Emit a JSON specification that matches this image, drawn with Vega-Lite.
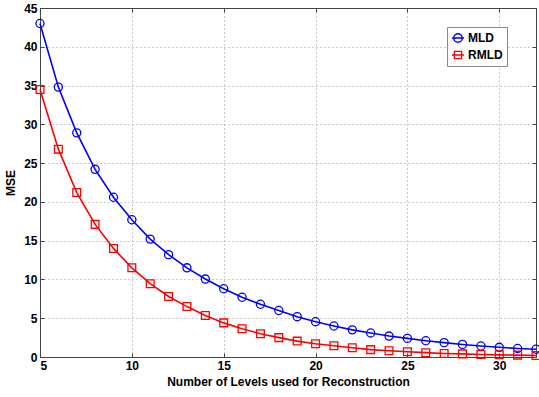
{
  "$schema": "https://vega.github.io/schema/vega-lite/v6.json",
  "width": 496,
  "height": 349,
  "autosize": {"type": "none"},
  "padding": {"left": 40, "top": 8, "right": 3, "bottom": 40},
  "background": "white",
  "config": {
    "font": "Liberation Sans",
    "view": {"stroke": "#444", "strokeWidth": 1},
    "axis": {
      "labelFont": "Liberation Sans",
      "labelFontWeight": "bold",
      "labelFontSize": 12,
      "labelColor": "black",
      "titleFont": "Liberation Sans",
      "titleFontWeight": "bold",
      "titleFontSize": 12,
      "titleColor": "black",
      "domainColor": "#444",
      "tickColor": "#444",
      "tickSize": -4,
      "gridColor": "#999999",
      "gridDash": [1, 3],
      "gridWidth": 1,
      "gridOpacity": 1
    }
  },
  "data": {
    "values": [
      {"level": 5, "series": "MLD", "mse": 43.0},
      {"level": 6, "series": "MLD", "mse": 34.8},
      {"level": 7, "series": "MLD", "mse": 28.9},
      {"level": 8, "series": "MLD", "mse": 24.2},
      {"level": 9, "series": "MLD", "mse": 20.6},
      {"level": 10, "series": "MLD", "mse": 17.7},
      {"level": 11, "series": "MLD", "mse": 15.2},
      {"level": 12, "series": "MLD", "mse": 13.2},
      {"level": 13, "series": "MLD", "mse": 11.5},
      {"level": 14, "series": "MLD", "mse": 10.05},
      {"level": 15, "series": "MLD", "mse": 8.8},
      {"level": 16, "series": "MLD", "mse": 7.7},
      {"level": 17, "series": "MLD", "mse": 6.8},
      {"level": 18, "series": "MLD", "mse": 6.0},
      {"level": 19, "series": "MLD", "mse": 5.2},
      {"level": 20, "series": "MLD", "mse": 4.55},
      {"level": 21, "series": "MLD", "mse": 4.0},
      {"level": 22, "series": "MLD", "mse": 3.5},
      {"level": 23, "series": "MLD", "mse": 3.1},
      {"level": 24, "series": "MLD", "mse": 2.7},
      {"level": 25, "series": "MLD", "mse": 2.4},
      {"level": 26, "series": "MLD", "mse": 2.1},
      {"level": 27, "series": "MLD", "mse": 1.85},
      {"level": 28, "series": "MLD", "mse": 1.62},
      {"level": 29, "series": "MLD", "mse": 1.42},
      {"level": 30, "series": "MLD", "mse": 1.25},
      {"level": 31, "series": "MLD", "mse": 1.1},
      {"level": 32, "series": "MLD", "mse": 1.0},
      {"level": 5, "series": "RMLD", "mse": 34.5},
      {"level": 6, "series": "RMLD", "mse": 26.8},
      {"level": 7, "series": "RMLD", "mse": 21.2},
      {"level": 8, "series": "RMLD", "mse": 17.1},
      {"level": 9, "series": "RMLD", "mse": 14.0},
      {"level": 10, "series": "RMLD", "mse": 11.5},
      {"level": 11, "series": "RMLD", "mse": 9.45},
      {"level": 12, "series": "RMLD", "mse": 7.8},
      {"level": 13, "series": "RMLD", "mse": 6.5},
      {"level": 14, "series": "RMLD", "mse": 5.35},
      {"level": 15, "series": "RMLD", "mse": 4.4},
      {"level": 16, "series": "RMLD", "mse": 3.65},
      {"level": 17, "series": "RMLD", "mse": 3.0},
      {"level": 18, "series": "RMLD", "mse": 2.5},
      {"level": 19, "series": "RMLD", "mse": 2.05},
      {"level": 20, "series": "RMLD", "mse": 1.7},
      {"level": 21, "series": "RMLD", "mse": 1.45},
      {"level": 22, "series": "RMLD", "mse": 1.2},
      {"level": 23, "series": "RMLD", "mse": 0.95},
      {"level": 24, "series": "RMLD", "mse": 0.8},
      {"level": 25, "series": "RMLD", "mse": 0.68},
      {"level": 26, "series": "RMLD", "mse": 0.56},
      {"level": 27, "series": "RMLD", "mse": 0.46},
      {"level": 28, "series": "RMLD", "mse": 0.4},
      {"level": 29, "series": "RMLD", "mse": 0.33},
      {"level": 30, "series": "RMLD", "mse": 0.28},
      {"level": 31, "series": "RMLD", "mse": 0.24},
      {"level": 32, "series": "RMLD", "mse": 0.2}
    ]
  },
  "layer": [
    {
      "encoding": {
        "x": {
          "field": "level", "type": "quantitative",
          "scale": {"domain": [5, 32], "nice": false, "zero": false},
          "axis": {"orient": "bottom", "values": [5, 10, 15, 20, 25, 30], "title": "Number of Levels used for Reconstruction", "labelPadding": 7, "titlePadding": 5}
        },
        "y": {
          "field": "mse", "type": "quantitative",
          "scale": {"domain": [0, 45], "nice": false},
          "axis": {"orient": "left", "values": [0, 5, 10, 15, 20, 25, 30, 35, 40, 45], "title": "MSE", "labelPadding": 7, "titlePadding": 6}
        },
        "color": {
          "field": "series", "type": "nominal",
          "scale": {"domain": ["MLD", "RMLD"], "range": ["#0000ff", "#ff0000"]},
          "legend": {
            "title": null,
            "orient": "none",
            "legendX": 407,
            "legendY": 19,
            "fillColor": "white",
            "strokeColor": "#888",
            "padding": 4,
            "labelFont": "Liberation Sans",
            "labelFontWeight": "bold",
            "labelFontSize": 12,
            "labelColor": "black",
            "symbolType": "circle",
            "symbolSize": 144,
            "symbolStrokeWidth": 1.4,
            "rowPadding": 3,
            "labelOffset": 3,
            "encode": {
              "symbols": {
                "update": {
                  "shape": {"signal": "datum.value === 'MLD' ? 'M-1,0H1M-0.7,0A0.7,0.7 0 1,1 0.7,0A0.7,0.7 0 1,1 -0.7,0' : 'M-1,0H1M-0.6,-0.6H0.6V0.6H-0.6Z'"},
                  "fill": {"value": "transparent"}
                }
              }
            }
          }
        }
      },
      "layer": [
        {"mark": {"type": "line", "strokeWidth": 1.6}},
        {
          "transform": [{"filter": "datum.series === 'MLD'"}],
          "mark": {"type": "point", "shape": "circle", "filled": false, "size": 66, "strokeWidth": 1.3, "opacity": 1}
        },
        {
          "transform": [{"filter": "datum.series === 'RMLD'"}],
          "mark": {"type": "point", "shape": "square", "filled": false, "size": 60, "strokeWidth": 1.3, "opacity": 1}
        }
      ]
    },
    {
      "mark": {"type": "point", "opacity": 0},
      "encoding": {
        "x": {"field": "level", "type": "quantitative", "axis": {"orient": "top", "values": [5, 10, 15, 20, 25, 30], "labels": false, "title": null, "grid": false}},
        "y": {"field": "mse", "type": "quantitative", "axis": {"orient": "right", "values": [0, 5, 10, 15, 20, 25, 30, 35, 40, 45], "labels": false, "title": null, "grid": false}},
        "color": {"value": "transparent"}
      }
    }
  ],
  "resolve": {"axis": {"x": "independent", "y": "independent"}}
}
